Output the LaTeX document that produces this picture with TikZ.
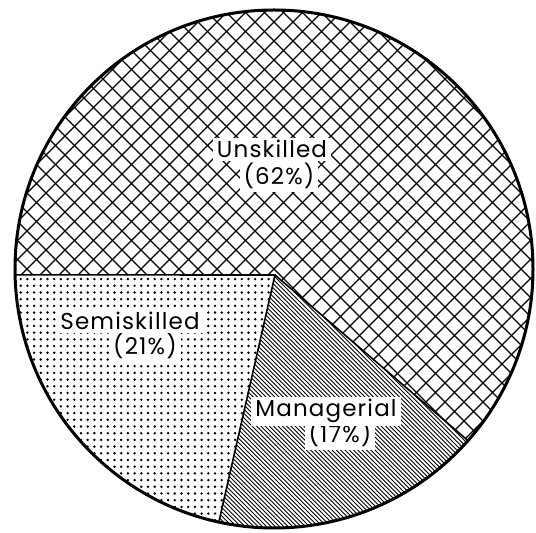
\documentclass[tikz,border=0pt]{standalone}
\usepackage{fontspec}
\newfontfamily\lblfont[LetterSpace=5]{Poppins}
\begin{document}
\begin{tikzpicture}[x=1pt,y=1pt,
  rim/.style={line width=3pt},
  edge/.style={line width=1.6pt},
  lbl/.style={fill=white,inner xsep=4pt,inner ysep=2.5pt,anchor=base,font=\lblfont\fontsize{23}{27}\selectfont}]
\useasboundingbox (0,0) rectangle (536,533);
\coordinate (C) at (274,264);
\coordinate (V) at (275,258);
\path (C) ++(181.3:259) coordinate (pL);
\path (C) ++(257.7:259) coordinate (pB);
\path (C) ++(318.5:259) coordinate (pR);
% unskilled: cross-hatch
\begin{scope}
  \clip (V) -- (pR) arc[start angle=318.5,end angle=541.3,radius=259] -- cycle;
  \foreach \k in {-30,...,30} {
    \draw[line width=1.4pt] (C) ++(\k*19,0) ++(-300,-300) -- ++(600,600);
    \draw[line width=1.4pt] (C) ++(\k*19,0) ++(-300,300) -- ++(600,-600);
  }
\end{scope}
% semiskilled: dots
\begin{scope}
  \clip (V) -- (pL) arc[start angle=181.3,end angle=257.7,radius=259] -- cycle;
  \foreach \i in {0,...,40}
    \foreach \j in {0,...,38}
      \fill (14+\i*6.7,6+\j*6.7) circle (1.35);
\end{scope}
% managerial: fine hatching
\begin{scope}
  \clip (V) -- (pB) arc[start angle=257.7,end angle=318.5,radius=259] -- cycle;
  \foreach \k in {0,...,128}
    \draw[line width=0.9pt] (\k*4.3-100,300) -- ++(300,-300);
\end{scope}
\draw[edge] (pL) -- (V) -- (pB) (V) -- (pR);
\draw[rim] (C) circle (259);
% labels (percent lines first, so descenders stay visible)
\node[lbl] (unskpct) at (279,348) {(62\%)};
\node[lbl] (semipct) at (145,178) {(21\%)};
\node[lbl] (mgrpct) at (340,90) {(17\%)};
\node[lbl] (unsk) at (272,375) {Unskilled};
\node[lbl] (semi) at (130,203) {Semiskilled};
\node[lbl] (mgr) at (326,116) {Managerial};
\end{tikzpicture}
\end{document}
